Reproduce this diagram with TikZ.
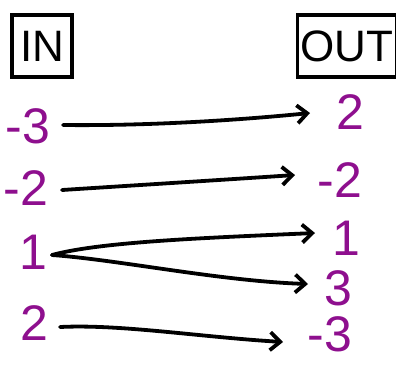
\documentclass[tikz,border=0pt]{standalone}
\usepackage{fontspec}
\setmainfont{Liberation Sans}
\usetikzlibrary{arrows.meta}
\definecolor{numpurple}{HTML}{8E0F8E}
\begin{document}
\begin{tikzpicture}[x=1pt,y=-1pt,
  num/.style={text=numpurple,font=\fontsize{50}{50}\selectfont,inner sep=0pt},
  hdr/.style={draw,line width=3.8pt,font=\fontsize{44}{44}\selectfont,inner sep=3pt,minimum height=62pt},
  map/.style={line width=3.8pt,line cap=round,-{Straight Barb[length=10pt,width=18pt,line width=3.8pt]}}]
\useasboundingbox (0,0) rectangle (396,365);
\node[hdr,minimum width=60pt] (in) at (42,46) {IN};
\node[hdr,minimum width=84pt] (out) at (347,46) {OUT};
\node[num] (l1) at (28,126) {-3};
\node[num] (l2) at (26,188) {-2};
\node[num] (l3) at (33,252) {1};
\node[num] (l4) at (34,323) {2};
\node[num] (r1) at (350,112) {2};
\node[num] (r2) at (340,180) {-2};
\node[num] (r3) at (346,238) {1};
\node[num] (r4) at (338,288) {3};
\node[num] (r5) at (330,334) {-3};
\coordinate (a1) at (63,125); \coordinate (b1) at (310,113);
\coordinate (a2) at (62,190); \coordinate (b2) at (295,175);
\coordinate (a3) at (52,255); \coordinate (b3) at (315,233);
\coordinate (b4) at (308,284);
\coordinate (a5) at (60,327); \coordinate (b5) at (283,342);
\draw[map] (a1) .. controls (150,126) and (240,120) .. (b1);
\draw[map] (a2) .. controls (140,185) and (220,180) .. (b2);
\draw[map] (a3) .. controls (100,242) and (200,238) .. (b3);
\draw[map] (a3) .. controls (120,260) and (220,281) .. (b4);
\draw[map] (a5) .. controls (120,324) and (200,337) .. (b5);
\end{tikzpicture}
\end{document}
